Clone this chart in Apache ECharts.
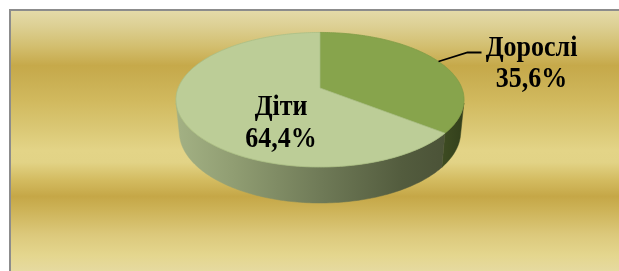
<!DOCTYPE html>
<html>
<head>
<meta charset="utf-8">
<script src="https://cdn.jsdelivr.net/npm/echarts@6/dist/echarts.min.js"></script>
<style>
  html, body { margin: 0; padding: 0; background: #ffffff; }
  #chart { width: 619px; height: 271px; }
</style>
</head>
<body>
<div id="chart"></div>
<script>
// ---- data ----
const categories = ['Дорослі', 'Діти'];
const values = [35.6, 64.4];

// ---- layout / style ----
const TOP_COLORS = ['#87a44c', '#bccd97'];
const TOP_STROKES = ['#7f9c46', '#aabf86'];
const PIE = { cx: 320, cy: 88, f: 721.6, D: 5.088, alpha: Math.asin(0.46), h: 0.257 };
const LABEL_FONT = 'bold 26px "Liberation Serif", "Times New Roman", serif';
const LABEL_SCALE_Y = 1.12;
const LABEL_LINE_HEIGHT = 28.5;
const LABEL_LAYOUT = [
  { type: 'outside', elbow: [29, -9], tail: 14, textOffset: [50, 11.5] },
  { type: 'inside', r: 0.56, angleOffset: -37.5 }
];

const sinA = Math.sin(PIE.alpha), cosA = Math.cos(PIE.alpha);
function proj(theta, r, Y) {
  const X = r * Math.cos(theta), Z = r * Math.sin(theta);
  const yv = Y * cosA - Z * sinA;
  const zv = PIE.D - (Z * cosA + Y * sinA);
  return [PIE.cx + PIE.f * X / zv, PIE.cy - PIE.f * yv / zv];
}
const deg = Math.PI / 180;
const total = values.reduce((a, b) => a + b, 0);
const visMin = Math.asin(1 / (PIE.D * cosA));
const visMax = Math.PI - visMin;

function fmt(v) { return v.toFixed(1).replace('.', ',') + '%'; }

function arc(a, b, Y) {
  const pts = [];
  const n = Math.max(2, Math.ceil(Math.abs(b - a) / deg));
  for (let i = 0; i <= n; i++) pts.push(proj(a + (b - a) * i / n, 1, Y));
  return pts;
}

function labelText(x, y, text) {
  return {
    type: 'text', z2: 21,
    x: x, y: y, scaleY: LABEL_SCALE_Y,
    style: { text: text, font: LABEL_FONT, fill: '#000000', align: 'center', verticalAlign: 'middle', lineHeight: LABEL_LINE_HEIGHT }
  };
}

function renderItem(params, api) {
  const idx = params.dataIndex;
  const v = api.value(0);
  let cum = 0;
  for (let i = 0; i < idx; i++) cum += values[i];
  const t0 = -Math.PI / 2 + 2 * Math.PI * cum / total;
  const t1 = t0 + 2 * Math.PI * v / total;
  const children = [];

  // side wall (front visible part)
  const ranges = [];
  for (const shift of [0, 2 * Math.PI, -2 * Math.PI]) {
    const a = Math.max(t0 + shift, visMin), b = Math.min(t1 + shift, visMax);
    if (b > a) ranges.push([a, b]);
  }
  const left = proj(Math.PI, 1, 0)[0] - 2, right = proj(0, 1, 0)[0] + 4;
  const sideFill = idx === 0
    ? new echarts.graphic.LinearGradient(0, 0, 1, 0, [
        { offset: 0, color: '#3e4c22' }, { offset: 1, color: '#323f1b' }])
    : new echarts.graphic.LinearGradient(left, 0, right, 0, [
        { offset: 0, color: '#a3b184' },
        { offset: 0.2, color: '#909d72' },
        { offset: 0.5, color: '#6f7a57' },
        { offset: 0.78, color: '#535c3e' },
        { offset: 1, color: '#474e34' }], true);
  ranges.forEach(([a, b]) => {
    const pts = arc(a, b, 0).concat(arc(b, a, -PIE.h));
    children.push({
      type: 'polygon', z2: 1,
      shape: { points: pts },
      style: { fill: sideFill, stroke: sideFill, lineWidth: 0.5 }
    });
  });

  // top face
  const topPts = [proj(0, 0, 0)].concat(arc(t0, t1, 0));
  children.push({
    type: 'polygon', z2: 10,
    shape: { points: topPts },
    style: { fill: TOP_COLORS[idx], stroke: TOP_STROKES[idx], lineWidth: 0.8 }
  });

  // label
  const lay = LABEL_LAYOUT[idx];
  const text = categories[idx] + '\n' + fmt(v);
  const mid = (t0 + t1) / 2;
  if (lay.type === 'outside') {
    const p0 = proj(mid, 1, 0);
    const p1 = [p0[0] + lay.elbow[0], p0[1] + lay.elbow[1]];
    const p2 = [p1[0] + lay.tail, p1[1]];
    children.push({
      type: 'polyline', z2: 20,
      shape: { points: [p0, p1, p2] },
      style: { stroke: '#000000', lineWidth: 1.8, fill: null }
    });
    children.push(labelText(p2[0] + lay.textOffset[0], p2[1] + lay.textOffset[1], text));
  } else {
    const p = proj(mid + lay.angleOffset * deg, lay.r, 0);
    children.push(labelText(p[0], p[1], text));
  }
  return { type: 'group', children: children };
}

const bgGradient = new echarts.graphic.LinearGradient(0, 0, 0, 1, [
  { offset: 0.000, color: '#e4daa8' },
  { offset: 0.057, color: '#ddd094' },
  { offset: 0.134, color: '#d3bf70' },
  { offset: 0.210, color: '#c6a94a' },
  { offset: 0.250, color: '#c8ad50' },
  { offset: 0.345, color: '#d1b95e' },
  { offset: 0.440, color: '#d9c672' },
  { offset: 0.536, color: '#e3d487' },
  { offset: 0.582, color: '#e2d386' },
  { offset: 0.651, color: '#d3bb60' },
  { offset: 0.713, color: '#c5a747' },
  { offset: 0.766, color: '#cdb358' },
  { offset: 0.862, color: '#dcc97c' },
  { offset: 0.940, color: '#e4d68e' },
  { offset: 1.000, color: '#e6daa0' }
]);

const chart = echarts.init(document.getElementById('chart'), null, { renderer: 'canvas' });
chart.setOption({
  animation: false,
  backgroundColor: '#ffffff',
  graphic: [
    {
      type: 'rect', z: -10,
      shape: { x: 10, y: 10, width: 700, height: 300 },
      style: { fill: '#e6daa0', stroke: '#8c8c8c', lineWidth: 2 }
    },
    {
      type: 'rect', z: -9,
      shape: { x: 11, y: 11, width: 700, height: 260 },
      style: { fill: bgGradient }
    }
  ],
  series: [{
    type: 'custom',
    coordinateSystem: 'none',
    renderItem: renderItem,
    data: values.map((v, i) => ({ name: categories[i], value: [v] }))
  }]
});
</script>
</body>
</html>
